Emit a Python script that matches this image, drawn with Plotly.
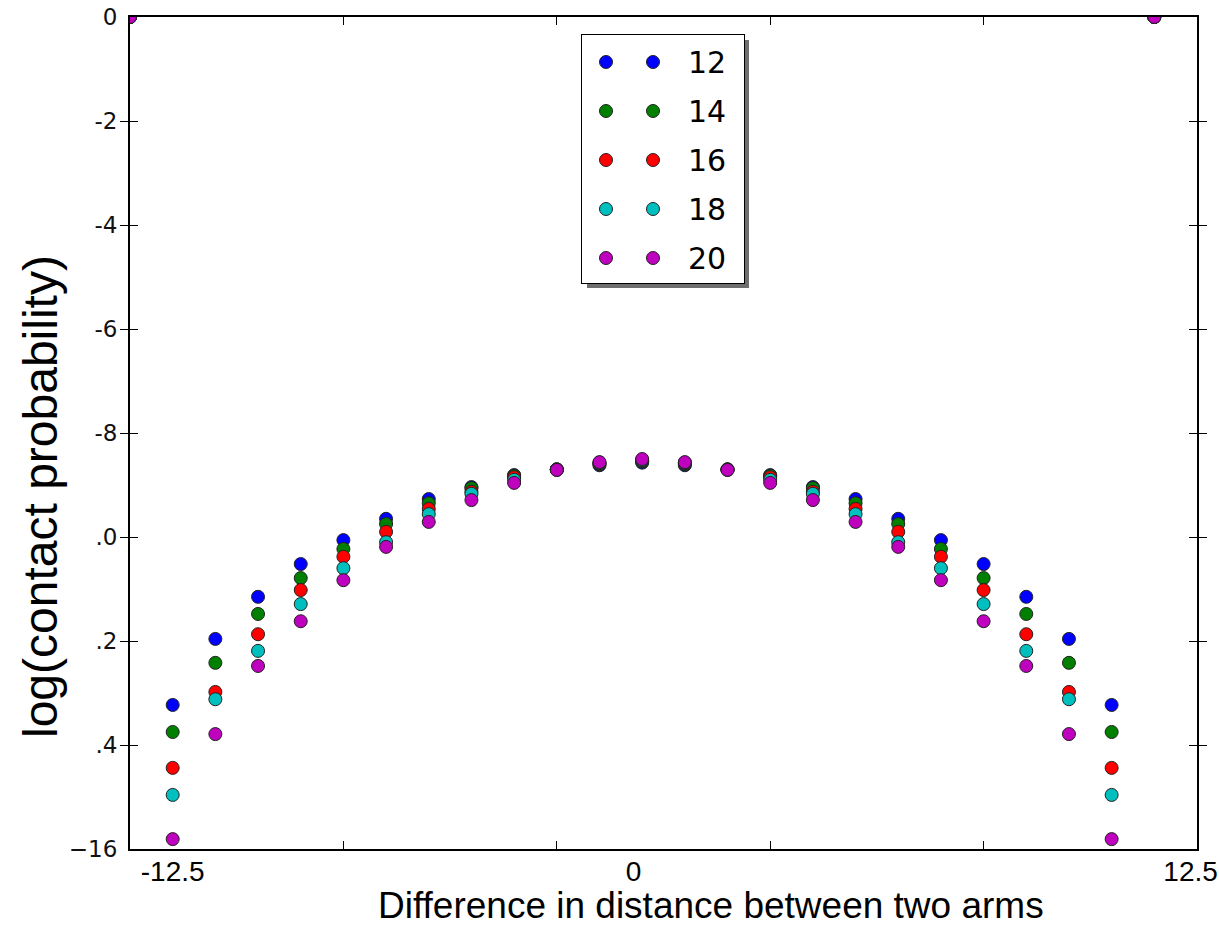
import plotly.graph_objects as go

# ---------------- data ----------------
x_index = list(range(25))
series_names = ["12", "14", "16", "18", "20"]
series_colors = ["#0000ff", "#008000", "#ff0000", "#00bfbf", "#bf00bf"]

y_12 = [0, -13.23, -11.96, -11.15, -10.52, -10.06, -9.65, -9.27, -9.04, -8.81, -8.70, -8.62, -8.57,
        -8.62, -8.70, -8.81, -9.04, -9.27, -9.65, -10.06, -10.52, -11.15, -11.96, -13.23, 0]
y_14 = [0, -13.75, -12.42, -11.48, -10.79, -10.23, -9.75, -9.35, -9.06, -8.82, -8.70, -8.60, -8.55,
        -8.60, -8.70, -8.82, -9.06, -9.35, -9.75, -10.23, -10.79, -11.48, -12.42, -13.75, 0]
y_16 = [0, -14.44, -12.98, -11.87, -11.02, -10.38, -9.90, -9.46, -9.13, -8.85, -8.70, -8.58, -8.53,
        -8.58, -8.70, -8.85, -9.13, -9.46, -9.90, -10.38, -11.02, -11.87, -12.98, -14.44, 0]
y_18 = [0, -14.96, -13.12, -12.19, -11.29, -10.60, -10.10, -9.56, -9.17, -8.90, -8.71, -8.57, -8.52,
        -8.57, -8.71, -8.90, -9.17, -9.56, -10.10, -10.60, -11.29, -12.19, -13.12, -14.96, 0]
y_20 = [0, -15.81, -13.79, -12.48, -11.62, -10.83, -10.19, -9.71, -9.29, -8.96, -8.71, -8.56, -8.50,
        -8.56, -8.71, -8.96, -9.29, -9.71, -10.19, -10.83, -11.62, -12.48, -13.79, -15.81, 0]
series_values = [y_12, y_14, y_16, y_18, y_20]

y_tickvals = [0, -2, -4, -6, -8, -10, -12, -14, -16]
y_ticktext = ["0", "-2", "-4", "-6", "-8", ".0", ".2", ".4", "\u221216"]
x_tickvals = [0, 5, 10, 15, 20, 25]
x_label_vals = [1.0, 11.8, 24.85]
x_label_text = ["-12.5", "0", "12.5"]

# ---------------- figure ----------------
W, H = 1219, 936
L, R, T, B = 130, 22, 17, 87
pw, ph = W - L - R, H - T - B

def px_x(p):
    return (p - L) / pw

def px_y(p):
    return (H - B - p) / ph

fig = go.Figure()

for name, color, vals in zip(series_names, series_colors, series_values):
    fig.add_trace(go.Scatter(
        x=x_index, y=vals, mode="markers", name=name, showlegend=False,
        marker=dict(size=13, color=color, line=dict(color="#222222", width=1)),
        xaxis="x", yaxis="y",
    ))

# empty trace so the overlaid label axis is drawn
fig.add_trace(go.Scatter(x=[None], y=[None], mode="markers", showlegend=False,
                         hoverinfo="skip", xaxis="x2", yaxis="y"))

# ---- custom matplotlib-like legend (two points per entry) ----
leg_x0, leg_x1, leg_y0, leg_y1 = 582, 744, 35, 283
row_top, row_step = 62, 49
dot_x = [606, 653]
for i, (name, color) in enumerate(zip(series_names, series_colors)):
    ry = row_top + row_step * i
    fig.add_trace(go.Scatter(
        x=dot_x, y=[ry, ry], mode="markers", showlegend=False, hoverinfo="skip",
        marker=dict(size=13, color=color, line=dict(color="#222222", width=1)),
        xaxis="x3", yaxis="y3",
    ))
    fig.add_annotation(x=686, y=ry, xref="x3", yref="y3", text=name, showarrow=False,
                       xanchor="left", yanchor="middle",
                       font=dict(family="DejaVu Sans", size=30, color="black"))

# shadow + box
fig.add_shape(type="rect", xref="paper", yref="paper",
              x0=px_x(leg_x0 + 5), x1=px_x(leg_x1 + 5), y0=px_y(leg_y1 + 5), y1=px_y(leg_y0 + 5),
              fillcolor="#6e6e6e", line=dict(width=0), layer="below")
fig.add_shape(type="rect", xref="paper", yref="paper",
              x0=px_x(leg_x0), x1=px_x(leg_x1), y0=px_y(leg_y1), y1=px_y(leg_y0),
              fillcolor="white", line=dict(color="black", width=2), layer="below")

axis_common = dict(showgrid=False, zeroline=False, showline=True, linecolor="black",
                   linewidth=2, mirror="allticks", ticks="inside", ticklen=8,
                   tickwidth=1, tickcolor="black", automargin=False)

fig.update_layout(
    width=W, height=H,
    margin=dict(l=L, r=R, t=T, b=B),
    paper_bgcolor="white", plot_bgcolor="white",
    xaxis=dict(range=[0, 25], tickvals=x_tickvals, showticklabels=False, **axis_common),
    yaxis=dict(range=[-16, 0], tickvals=y_tickvals, ticktext=y_ticktext,
               tickfont=dict(family="DejaVu Sans", size=23, color="#111111"),
               ticklabelstandoff=6, **axis_common),
    xaxis2=dict(range=[0, 25], overlaying="x", anchor="y", side="bottom",
                tickmode="array", tickvals=x_label_vals, ticktext=x_label_text, ticks="",
                showline=False, showgrid=False, zeroline=False, automargin=False,
                ticklabelstandoff=3, showticklabels=True,
                tickfont=dict(family="Liberation Sans, Arial", size=28, color="black")),
    xaxis3=dict(domain=[px_x(leg_x0), px_x(leg_x1)], range=[leg_x0, leg_x1], visible=False,
                anchor="y3", fixedrange=True),
    yaxis3=dict(domain=[px_y(leg_y1), px_y(leg_y0)], range=[leg_y1, leg_y0], visible=False,
                anchor="x3", fixedrange=True),
    showlegend=False,
)

# axis titles (positioned as in the reference)
fig.add_annotation(text="Difference in distance between two arms", xref="paper", yref="paper",
                   x=px_x(711), y=px_y(905), showarrow=False, xanchor="center", yanchor="middle",
                   font=dict(family="Liberation Sans, Arial", size=37, color="black"))
fig.add_annotation(text="log(contact probability)", xref="paper", yref="paper",
                   x=px_x(41), y=px_y(497), showarrow=False, textangle=-90,
                   xanchor="center", yanchor="middle",
                   font=dict(family="Liberation Sans, Arial", size=48, color="black"))

fig.write_html("out.html")
